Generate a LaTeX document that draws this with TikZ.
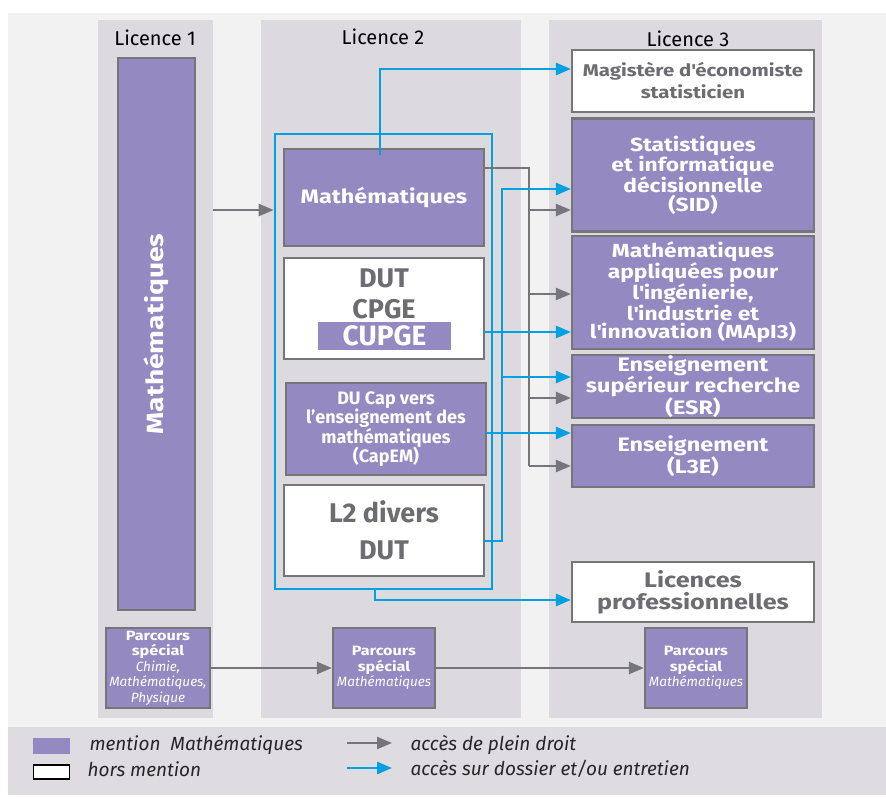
\documentclass[tikz,border=0pt]{standalone}
\usepackage{fontspec}
\setmainfont{Fira Sans}
\newfontfamily\etire[FakeStretch=1.2]{Fira Sans}
\usetikzlibrary{arrows.meta}

\definecolor{mentionviolet}{RGB}{148,137,192}
\definecolor{bordgris}{RGB}{118,118,122}
\definecolor{textegris}{RGB}{109,109,113}
\definecolor{fondcol}{RGB}{220,218,222}
\definecolor{fondclair}{RGB}{242,242,242}
\definecolor{fondlegende}{RGB}{222,220,224}
\definecolor{bleu}{RGB}{0,160,227}

\tikzset{
  boite/.style={draw=bordgris, line width=2.2pt, inner sep=0pt, align=center},
  mention/.style={boite, fill=mentionviolet, text=white},
  hors/.style={boite, fill=white, text=textegris},
  colonne/.style={fill=fondcol, inner sep=0pt},
  titre/.style={font=\fontsize{20}{22}\selectfont, text=black},
  plein/.style={draw=bordgris, line width=2.3pt, -{Triangle[length=15pt,width=12pt]}},
  dossier/.style={draw=bleu, line width=2.6pt, -{Triangle[length=15pt,width=12pt]}},
  legende/.style={font=\fontsize{19}{21}\selectfont\itshape, text=black!85, anchor=west},
}

\begin{document}
\begin{tikzpicture}[x=1pt,y=-1pt]
   \useasboundingbox (0,0) rectangle (886,798);
   \fill[fondclair] (8,13) rectangle (886,727);
   \fill[fondlegende] (8,727) rectangle (886,795);

   % colonnes
   \node[colonne, minimum width=115pt, minimum height=698pt] (col1) at (155.5,369) {};
   \node[colonne, minimum width=260pt, minimum height=698pt] (col2) at (391,369) {};
   \node[colonne, minimum width=273pt, minimum height=698pt] (col3) at (685.5,369) {};
   \node[titre] (t1) at (155,38) {Licence 1};
   \node[titre] (t2) at (383,37) {Licence 2};
   \node[titre] (t3) at (688,39) {Licence 3};

   % licence 1
   \node[mention, rotate=90, minimum width=552pt, minimum height=77pt, font=\etire\fontsize{23.5}{26}\selectfont\bfseries] (l1math) at (156.5,334) {Mathématiques};
   \node[mention, minimum width=104pt, minimum height=80pt, font=\fontsize{13.5}{15.5}\selectfont] (pl1) at (158,668)
      {{\etire\bfseries Parcours}\\{\etire\bfseries spécial}\\\textit{Chimie,}\\\textit{Mathématiques,}\\\textit{Physique}};

   % licence 2
   \node[draw=bleu, line width=2.6pt, minimum width=217pt, minimum height=455pt] (cadre) at (383.5,361.5) {};
   \node[mention, minimum width=200pt, minimum height=97pt, font=\etire\fontsize{19.5}{22}\selectfont\bfseries] (l2math) at (384,197.5) {Mathématiques};
   \node[hors, minimum width=200pt, minimum height=101pt] (dut) at (384,308.5) {};
   \node[text=textegris, align=center, font=\fontsize{27}{31}\selectfont\bfseries] (dutcpge) at (384,294) {DUT\\CPGE};
   \node[fill=mentionviolet, text=white, inner sep=0pt, minimum width=133pt, minimum height=28pt, font=\fontsize{28}{28}\selectfont\bfseries] (cupge) at (384.5,336) {CUPGE};
   \node[mention, minimum width=200pt, minimum height=92pt, font=\fontsize{18}{19.5}\selectfont\bfseries] (capem) at (386,429)
      {DU Cap vers\\l’enseignement des\\mathématiques\\(CapEM)};
   \node[hors, minimum width=200pt, minimum height=91pt, font=\fontsize{27}{37}\selectfont\bfseries] (l2div) at (384,530.5) {L2 divers\\DUT};
   \node[mention, minimum width=102pt, minimum height=80pt, font=\fontsize{13.5}{15.5}\selectfont] (pl2) at (384,668)
      {{\etire\bfseries Parcours}\\{\etire\bfseries spécial}\\\textit{Mathématiques}};

   % licence 3
   \node[hors, minimum width=242pt, minimum height=62pt, font=\etire\fontsize{17}{22}\selectfont\bfseries] (mag) at (693,81) {Magistère d\textquotesingle économiste\\statisticien};
   \node[mention, minimum width=242pt, minimum height=113pt, font=\etire\fontsize{19}{18.3}\selectfont\bfseries] (sid) at (693,175)
      {Statistiques\\et informatique\\décisionnelle\\(SID)};
   \node[mention, minimum width=242pt, minimum height=113pt, font=\etire\fontsize{19}{18.3}\selectfont\bfseries] (mapi) at (693,292.5)
      {Mathématiques\\appliquées pour\\l\textquotesingle ingénierie,\\l\textquotesingle industrie et\\l\textquotesingle innovation (MApI3)};
   \node[mention, minimum width=242pt, minimum height=63pt, font=\etire\fontsize{19.5}{20}\selectfont\bfseries] (esr) at (693,386.5)
      {Enseignement\\supérieur recherche\\(ESR)};
   \node[mention, minimum width=242pt, minimum height=62pt, font=\etire\fontsize{19.5}{21}\selectfont\bfseries] (l3e) at (693,456) {Enseignement\\(L3E)};
   \node[hors, minimum width=242pt, minimum height=60pt, font=\etire\fontsize{21}{22}\selectfont\bfseries] (lpro) at (693,592) {Licences\\professionnelles};
   \node[mention, minimum width=102pt, minimum height=80pt, font=\fontsize{13.5}{15.5}\selectfont] (pl3) at (696,668)
      {{\etire\bfseries Parcours}\\{\etire\bfseries spécial}\\\textit{Mathématiques}};

   % acces de plein droit
   \coordinate (e1) at (213,210);
   \draw[plein] (e1) -- (e1 -| cadre.west);
   \coordinate (g0) at (484,168);
   \draw[plein, -] (g0) -| (529,466);
   \foreach \cible/\yy in {sid/210, mapi/294, esr/398, l3e/466}{
      \coordinate (g) at (529,\yy);
      \draw[plein] (g) -- (g -| \cible.west);
   }
   \draw[plein] (pl1) -- (pl2);
   \draw[plein] (pl2) -- (pl3);

   % acces sur dossier
   \coordinate (b0) at (380,155);
   \draw[dossier] (b0) |- ([yshift=12pt]mag.west);
   \coordinate (d0) at (484,332);
   \draw[dossier] (d0) -- (d0 -| mapi.west);
   \coordinate (c0) at (486,433);
   \draw[dossier] (c0) -- (c0 -| l3e.west);
   \coordinate (v0) at (484,541);
   \coordinate (v1) at (502,189);
   \coordinate (v2) at (502,377);
   \draw[dossier] (v0) -| (v1) -- (v1 -| sid.west);
   \draw[dossier] (v2) -- (v2 -| esr.west);
   \coordinate (f0) at (375,589);
   \draw[dossier] (f0) |- ([yshift=-8pt]lpro.west);

   % legende
   \node[fill=mentionviolet, inner sep=0pt, minimum width=37pt, minimum height=16pt] (lgm) at (51.5,746) {};
   \node[draw=black, fill=white, line width=1.5pt, inner sep=0pt, minimum width=36pt, minimum height=14pt] (lgh) at (51.5,772) {};
   \node[legende] (lgmt) at (86,745) {mention\ \ Mathématiques};
   \node[legende] (lght) at (84,769) {hors mention};
   \coordinate (la0) at (347,743);
   \coordinate (la1) at (392,743);
   \draw[plein] (la0) -- (la1);
   \coordinate (lb0) at (347,768);
   \coordinate (lb1) at (392,768);
   \draw[dossier] (lb0) -- (lb1);
   \node[legende] (lat) at (407,745) {accès de plein droit};
   \node[legende] (lbt) at (407,769) {accès sur dossier et/ou entretien};
\end{tikzpicture}
\end{document}
